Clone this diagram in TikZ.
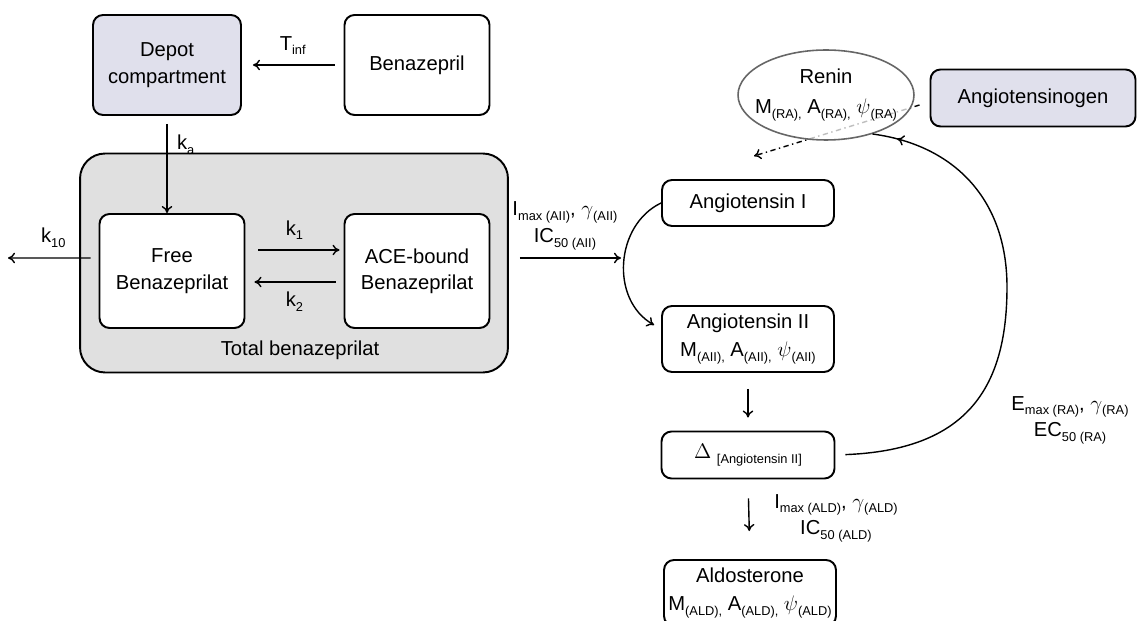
\documentclass[tikz,border=0pt]{standalone}
\usepackage{fontspec}
\setmainfont{Liberation Sans}
\usetikzlibrary{shapes.geometric,arrows.meta,backgrounds,decorations.markings}
\definecolor{lavfill}{RGB}{224,224,236}
\definecolor{totalfill}{RGB}{224,224,224}
\newcommand{\lo}[1]{\raisebox{-0.45ex}{\fontsize{7.3}{8}\selectfont #1}}
\begin{document}
\begin{tikzpicture}[x=0.02cm,y=-0.02cm,>={To[length=4pt,width=6pt]},
    font=\fontsize{11.5}{15}\selectfont,
    box/.style={draw,rounded corners=0.2cm,line width=1.1pt,align=center,inner sep=0pt,fill=white},
    lav/.style={box,fill=lavfill},
    link/.style={->,line width=0.8pt},
    midtip/.style={postaction={decorate},decoration={markings,mark=at position #1 with {\arrow{>}}}}]
    \useasboundingbox (0,0) rectangle (1137,621);
    % pharmacokinetics
    \node[box,minimum width=8.56cm,minimum height=4.38cm,rounded corners=0.5cm,fill=totalfill] (total) at (294,263) {};
    \node (totallab) at (300,350) {Total benazeprilat};
    \node[lav,minimum width=2.96cm,minimum height=2cm] (depot) at (167,65) {Depot\\compartment};
    \node[box,minimum width=2.9cm,minimum height=2cm] (benaz) at (417,65) {Benazepril};
    \node[box,minimum width=2.9cm,minimum height=2.28cm] (free) at (172,271) {Free\\Benazeprilat};
    \node[box,minimum width=2.9cm,minimum height=2.28cm] (ace) at (417,271) {ACE-bound\\Benazeprilat};
    \coordinate (elim) at (8,258);
    \draw[link,shorten <=0.18cm,shorten >=0.22cm] (benaz.west) -- node[above=2pt] {T\lo{inf}} (depot.east);
    \draw[link,shorten <=0.16cm] (depot.south) -- node[right=2pt,pos=0.3] {k\lo{a}} (depot.south |- free.north);
    \draw[link,shorten <=0.26cm,shorten >=0.08cm] ([yshift=0.42cm]free.east) -- node[above=2pt] {k\lo{1}} ([yshift=0.42cm]ace.west);
    \draw[link,shorten <=0.16cm,shorten >=0.18cm] ([yshift=-0.22cm]ace.west) -- node[below=2pt] {k\lo{2}} ([yshift=-0.22cm]free.west -| free.east);
    \draw[link,shorten <=0.16cm] ([yshift=0.26cm]free.west) -- node[above=2pt] {k\lo{10}} (elim);
    % renin angiotensin aldosterone system
    \node[box,minimum width=3.44cm,minimum height=0.92cm] (angI) at (748,203) {Angiotensin I};
    \node[box,minimum width=3.44cm,minimum height=1.32cm] (angII) at (748,339) {Angiotensin II\\[1pt]M\lo{(AII),} A\lo{(AII),} $\psi$\lo{(AII)}};
    \node[box,minimum width=3.46cm,minimum height=0.94cm] (delta) at (748,455) {$\Delta$ \lo{[Angiotensin II]}};
    \node[box,minimum width=3.44cm,minimum height=1.32cm] (aldo) at (750,593) {Aldosterone\\[1pt]M\lo{(ALD),} A\lo{(ALD),} $\psi$\lo{(ALD)}};
    \node[draw=black!60,line width=0.9pt,ellipse,fill=white,fill opacity=0.75,minimum width=3.52cm,minimum height=1.8cm] (renin) at (826,95) {};
    \node[align=center] (renintxt) at (renin) {Renin\\[2pt]M\lo{(RA),} A\lo{(RA),} $\psi$\lo{(RA)}};
    \node[lav,minimum width=4.1cm,minimum height=1.14cm] (agen) at (1033,98) {Angiotensinogen};
    \coordinate (inhib) at (621,258);
    \coordinate (reninout) at (754,156);
    \coordinate (loop) at (1007,287);
    \begin{scope}[on background layer]
        \draw[link,dash dot] ([xshift=-0.2cm,yshift=-0.14cm]agen.west) -- (reninout);
    \end{scope}
    \draw[link,shorten <=0.22cm] (total.east |- inhib) -- node[above=1pt,align=center] {I\lo{max (AII)}, $\gamma$\lo{(AII)}\\IC\lo{50 (AII)}} (inhib);
    \draw[link] (angI.west) .. controls (615,225) and (610,300) .. ([xshift=-0.14cm,yshift=0.28cm]angII.west);
    \draw[link,shorten <=0.32cm,shorten >=0.26cm] (angII.south) -- (delta.north);
    \draw[link,shorten <=0.38cm,shorten >=0.56cm] (delta.south) -- (aldo.north);
    \node[align=center] (aldolab) at (836,518) {I\lo{max (ALD)}, $\gamma$\lo{(ALD)}\\IC\lo{50 (ALD)}};
    \draw[line width=0.8pt,midtip=0.95,shorten <=0.2cm] (delta.east) .. controls (965,450) and (1007,390) .. (loop)
        .. controls (1007,200) and (955,145) .. (renin.-40);
    \node[align=center] (reninlab) at (1070,420) {E\lo{max (RA)}, $\gamma$\lo{(RA)}\\EC\lo{50 (RA)}};
\end{tikzpicture}
\end{document}
